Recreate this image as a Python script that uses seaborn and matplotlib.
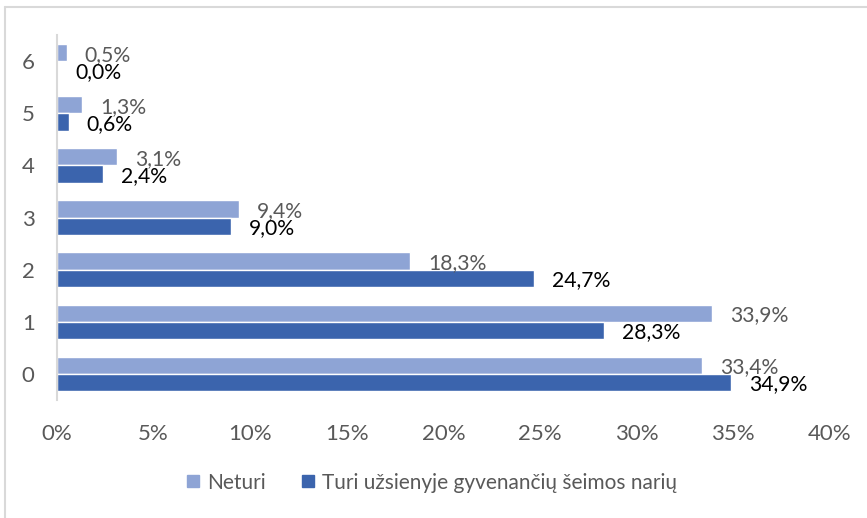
import matplotlib
matplotlib.use("Agg")
import matplotlib.pyplot as plt
from matplotlib.lines import Line2D
import pandas as pd
import seaborn as sns

# Number of family members (category axis)
categories = ["0", "1", "2", "3", "4", "5", "6"]
series_names = ["Neturi", "Turi užsienyje gyvenančių šeimos narių"]
neturi = [33.4, 33.9, 18.3, 9.4, 3.1, 1.3, 0.5]
turi = [34.9, 28.3, 24.7, 9.0, 2.4, 0.6, 0.0]
x_ticks = [0, 5, 10, 15, 20, 25, 30, 35, 40]

light_blue = "#8EA4D5"
dark_blue = "#3B64AD"
grey_text = "#595959"

df = pd.DataFrame({
    "kategorija": categories * 2,
    "reiksme": neturi + turi,
    "grupe": [series_names[0]] * len(categories) + [series_names[1]] * len(categories),
})

sns.set_theme(style="white")
plt.rcParams["font.family"] = ["Lato", "DejaVu Sans"]

fig = plt.figure(figsize=(8.67, 5.18), dpi=100)
ax = fig.add_axes([0.0657, 0.228, 0.8913, 0.704])

sns.barplot(
    data=df, x="reiksme", y="kategorija", hue="grupe",
    order=categories[::-1], hue_order=series_names,
    palette=[light_blue, dark_blue], orient="h",
    width=0.66, edgecolor="white", linewidth=1.0,
    saturation=1, ax=ax, legend=False,
)

def fmt(v):
    return f"{v:.1f}".replace(".", ",") + "%"

label_colors = [grey_text, "black"]
for cont, color in zip(ax.containers, label_colors):
    vals = [b.get_width() for b in cont]
    anns = ax.bar_label(cont, labels=[fmt(v) for v in vals], padding=13,
                        color=color, fontsize=15.2)
    for a in anns:
        a.xyann = (13, -1.5)

ax.set_xlim(0, 40)
ax.set_xticks(x_ticks)
ax.set_xticklabels([f"{t}%" for t in x_ticks])
ax.set_xlabel("")
ax.set_ylabel("")
ax.tick_params(axis="both", colors=grey_text, labelsize=16, length=0)
ax.tick_params(axis="x", pad=17)
ax.tick_params(axis="y", pad=16)
for side in ["top", "right", "bottom"]:
    ax.spines[side].set_visible(False)
ax.spines["left"].set_color("#D9D9D9")
ax.spines["left"].set_linewidth(1.5)
ax.grid(False)

handles = [
    Line2D([0], [0], marker="s", linestyle="none", markersize=8,
           markerfacecolor=light_blue, markeredgecolor=light_blue),
    Line2D([0], [0], marker="s", linestyle="none", markersize=8,
           markerfacecolor=dark_blue, markeredgecolor=dark_blue),
]
fig.legend(handles, series_names, loc="center", bbox_to_anchor=(0.497, 0.068),
           ncol=2, frameon=False, fontsize=15, labelcolor=grey_text,
           handletextpad=0.3, columnspacing=1.6, handlelength=0.8)

# Chart-area frame
fig.add_artist(Line2D([5 / 867, 1.0], [1 - 6.5 / 518] * 2,
                      transform=fig.transFigure, color="#D9D9D9", linewidth=1.5))
fig.add_artist(Line2D([5 / 867] * 2, [0.0, 1 - 6.5 / 518],
                      transform=fig.transFigure, color="#D9D9D9", linewidth=1.5))

fig.savefig("out.png", dpi=100, facecolor="white")
